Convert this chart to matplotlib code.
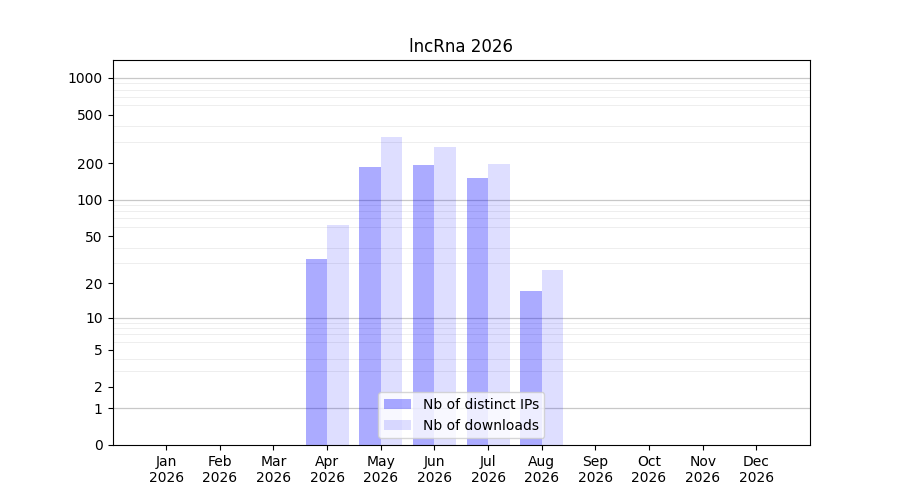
import numpy as np
import matplotlib
matplotlib.use("Agg")
import matplotlib.pyplot as plt

months = ["Jan", "Feb", "Mar", "Apr", "May", "Jun",
          "Jul", "Aug", "Sep", "Oct", "Nov", "Dec"]
year = "2026"
distinct_ips = [0, 0, 0, 32, 186, 194, 151, 17, 0, 0, 0, 0]
downloads = [0, 0, 0, 62, 329, 272, 198, 26, 0, 0, 0, 0]
ytick_vals = [0, 1, 2, 5, 10, 20, 50, 100, 200, 500, 1000]


def fwd(y):
    return np.log10(1 + np.clip(y, 0, None))


def inv(y):
    return 10 ** y - 1


fig, ax = plt.subplots(figsize=(9, 5), dpi=100)
x = np.arange(len(months))
w = 0.4
ax.bar(x - w / 2, distinct_ips, width=w, color="blue", alpha=0.33,
       label="Nb of distinct IPs")
ax.bar(x + w / 2, downloads, width=w, color="blue", alpha=0.13,
       label="Nb of downloads")

ax.set_yscale("function", functions=(fwd, inv))
ax.set_ylim(0, 1400)
ax.set_xlim(-1, 12)
ax.set_yticks(ytick_vals)
ax.set_yticklabels([str(v) for v in ytick_vals])
minors = [m * d for d in (1, 10, 100) for m in range(2, 10)]
ax.set_yticks(minors, minor=True)
ax.tick_params(axis="y", which="minor", length=0)
ax.yaxis.grid(True, which="minor", color="#eeeeee", lw=0.7)
for d in (1, 10, 100, 1000):
    ax.axhline(d, color="#c8c8c8", lw=0.9, zorder=0.6)
ax.set_axisbelow(True)

ax.set_xticks(x)
ax.set_xticklabels([f"{m}\n{year}" for m in months])
ax.set_title("lncRna 2026")
ax.legend(loc="lower center")

fig.savefig("out.png", dpi=100)
